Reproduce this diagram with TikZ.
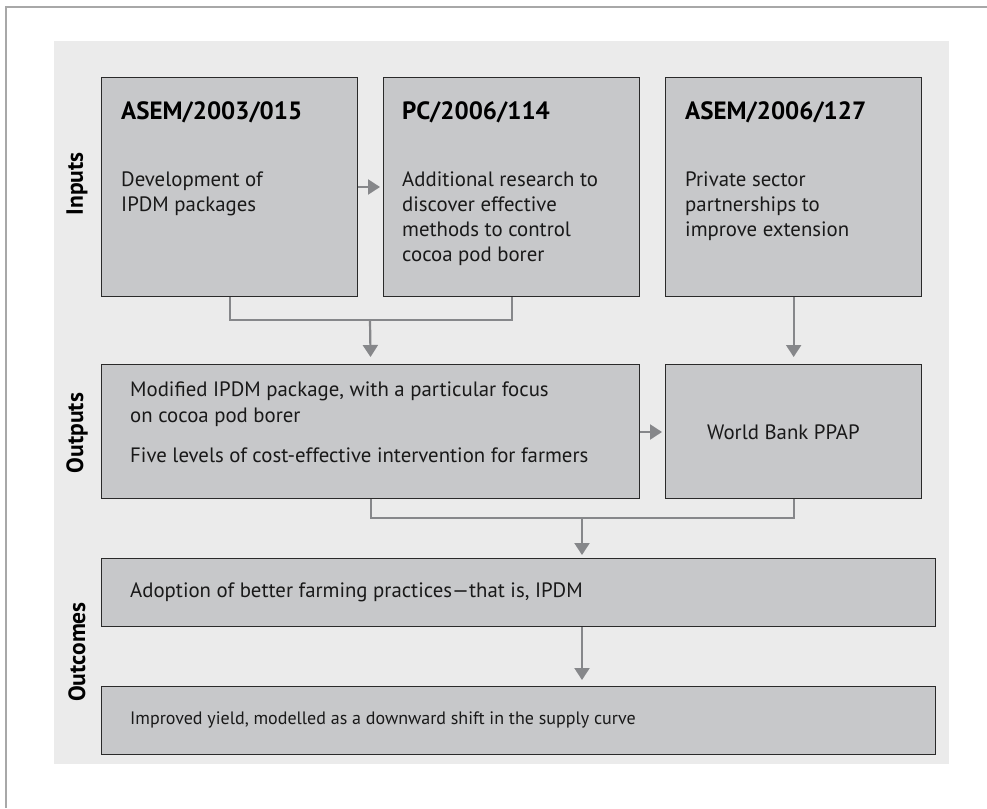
\documentclass[tikz,border=0pt]{standalone}
\usepackage{fontspec}
\setmainfont{PT Sans}
\usetikzlibrary{arrows.meta}
\definecolor{bggray}{HTML}{EBEBEB}
\definecolor{boxfill}{HTML}{C7C8CA}
\definecolor{boxline}{HTML}{2A2A2A}
\definecolor{arrgray}{HTML}{86878A}
\definecolor{framegray}{HTML}{A8A8A8}
\begin{document}
\begin{tikzpicture}[x=1pt,y=-1pt,
  box/.style={draw=boxline, fill=boxfill, line width=1.3pt, rectangle, inner sep=0pt, anchor=north west},
  txt/.style={anchor=base west, inner sep=0pt, text=black!90, font=\fontsize{20.8}{25}\selectfont},
  smalltxt/.style={anchor=base west, inner sep=0pt, text=black!90, font=\fontsize{18}{22}\selectfont},
  ttl/.style={anchor=base west, inner sep=0pt, text=black, font=\bfseries\fontsize{25}{29}\selectfont},
  lbl/.style={rotate=90, inner sep=0pt, text=black, font=\bfseries\fontsize{23.5}{27}\selectfont},
  conn/.style={draw=arrgray, line width=2.2pt},
  arr/.style={conn, -{Triangle[length=12pt,width=15pt]}}
]
\useasboundingbox (0,0) rectangle (987,808);
% frame and background
\draw[framegray, line width=1.5pt] (6,808) -- (6,7) -- (987,7);
\fill[bggray] (54,41) rectangle (949,764);

% boxes
\node[box, minimum width=256pt, minimum height=219pt] (b1) at (101,77) {};
\node[box, minimum width=256pt, minimum height=219pt] (b2) at (383,77) {};
\node[box, minimum width=256pt, minimum height=219pt] (b3) at (665,77) {};
\node[box, minimum width=538pt, minimum height=134pt] (ob) at (101,364) {};
\node[box, minimum width=256pt, minimum height=134pt] (wb) at (665,364) {};
\node[box, minimum width=834pt, minimum height=68pt] (oc) at (101,558) {};
\node[box, minimum width=834pt, minimum height=68pt] (fin) at (101,686) {};

% side labels
\node[lbl] (lin) at (77,184) {Inputs};
\node[lbl] (lout) at (77,433) {Outputs};
\node[lbl] (loc) at (77,652) {Outcomes};

% box 1
\node[ttl] (t1) at (121,119) {ASEM/2003/015};
\node[txt] (b1a) at (121,186) {Development of};
\node[txt] (b1b) at (121,211) {IPDM packages};
% box 2
\node[ttl] (t2) at (402,119) {PC/2006/114};
\node[txt] (b2a) at (402,186) {Additional research to};
\node[txt] (b2b) at (402,211) {discover effective};
\node[txt] (b2c) at (402,236) {methods to control};
\node[txt] (b2d) at (402,261) {cocoa pod borer};
% box 3
\node[ttl] (t3) at (685,119) {ASEM/2006/127};
\node[txt] (b3a) at (685,186) {Private sector};
\node[txt] (b3b) at (685,211) {partnerships to};
\node[txt] (b3c) at (685,236) {improve extension};
% outputs
\node[txt] (o1) at (130,396) {Modified IPDM package, with a particular focus};
\node[txt] (o2) at (130,422) {on cocoa pod borer};
\node[txt] (o3) at (130,462) {Five levels of cost-effective intervention for farmers};
\node[txt] (w1) at (707,439) {World Bank PPAP};
% outcomes
\node[txt] (c1) at (130,597) {Adoption of better farming practices—that is, IPDM};
\node[smalltxt] (f1) at (130,724) {Improved yield, modelled as a downward shift in the supply curve};

% connectors
\draw[arr, shorten >=3pt] (b1.east |- 0,187) -- (b2.west |- 0,187);
\coordinate (j1) at (370,320);
\draw[conn] (b1.south) |- (j1) -| (b2.south);
\draw[arr, shorten >=7pt] (j1) -- (ob.north);
\draw[arr, shorten >=7pt] (b3.south) -- (wb.north);
\draw[arr, shorten >=3pt] (ob.east |- 0,432) -- (wb.west |- 0,432);
\coordinate (j2) at (582,518);
\draw[conn] (ob.south) |- (j2) -| (wb.south);
\draw[arr, shorten >=3pt] (j2) -- (j2 |- oc.north);
\draw[arr, shorten >=6pt] (oc.south -| j2) -- (fin.north -| j2);
\end{tikzpicture}
\end{document}
